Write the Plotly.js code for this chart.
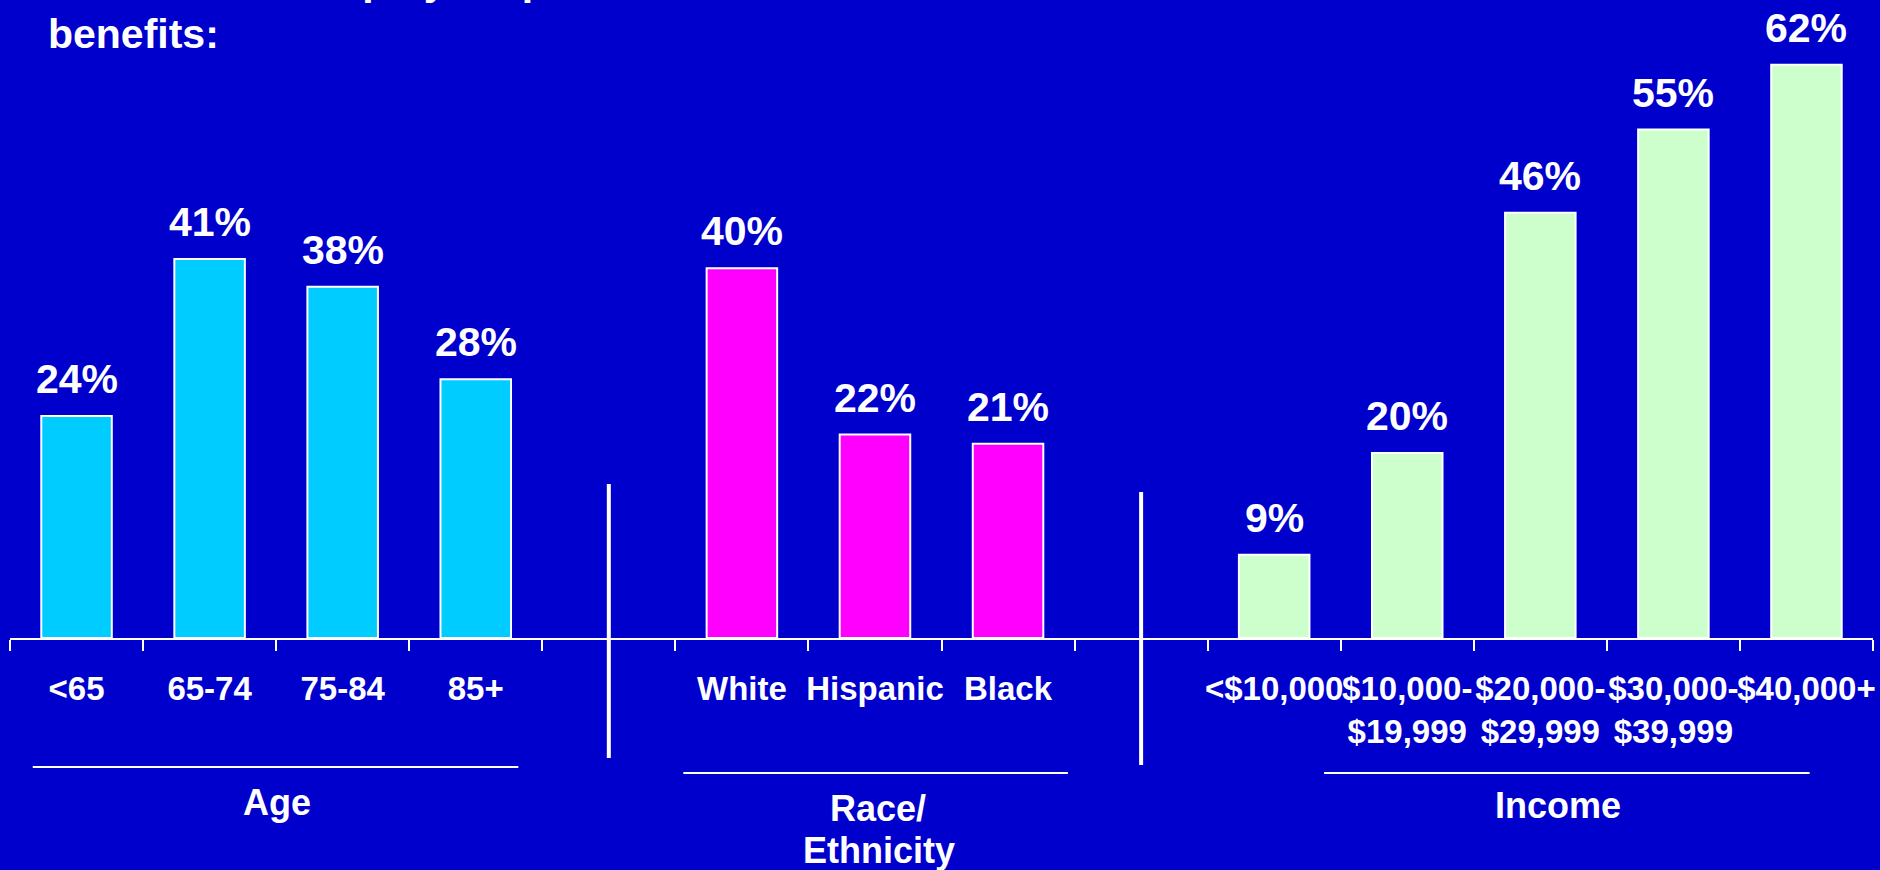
<!DOCTYPE html>
<html>
<head>
<meta charset="utf-8">
<script src="https://cdn.plot.ly/plotly-3.0.1.min.js"></script>
<style>
  html, body { margin: 0; padding: 0; background: #0000CC; }
  #chart { width: 1880px; height: 870px; }
</style>
</head>
<body>
<div id="chart"></div>
<script>
// ---- Data ----
const ageCats = ["<65", "65-74", "75-84", "85+"];
const ageVals = [24, 41, 38, 28];
const raceCats = ["White", "Hispanic", "Black"];
const raceVals = [40, 22, 21];
const incomeCats = ["<$10,000", "$10,000-<br>$19,999", "$20,000-<br>$29,999", "$30,000-<br>$39,999", "$40,000+"];
const incomeVals = [9, 20, 46, 55, 62];
const groupNames = ["Age", "Race/", "Ethnicity", "Income"];
const spacerA = " ";
const spacerB = "  ";
const titleText = "Percent with employer-sponsored retiree health<br>benefits:";

// ---- Styling ----
const FONT = '"Liberation Sans", Arial, Helvetica, sans-serif';
const BG = "#0000CC";
const WHITE = "#FFFFFF";
const categoryOrder = [...ageCats, spacerA, ...raceCats, spacerB, ...incomeCats];

function barTrace(cats, vals, color) {
  return {
    type: "bar",
    x: cats,
    y: vals,
    width: 0.53,
    marker: { color: color, line: { color: WHITE, width: 2 } },
    hoverinfo: "skip",
    showlegend: false,
    cliponaxis: false
  };
}

const traces = [
  barTrace(ageCats, ageVals, "#00CCFF"),
  barTrace(raceCats, raceVals, "#FF00FF"),
  barTrace(incomeCats, incomeVals, "#CCFFCC")
];

const annotations = [];
[[ageCats, ageVals], [raceCats, raceVals], [incomeCats, incomeVals]].forEach(function (g) {
  g[0].forEach(function (cat, i) {
    annotations.push({
      x: categoryOrder.indexOf(cat), y: g[1][i], xref: "x", yref: "y",
      text: g[1][i] + "%", showarrow: false, yanchor: "bottom", yshift: 12,
      font: { family: FONT, size: 41, color: WHITE, weight: "bold" }
    });
  });
});

// group label positions (x in category serial numbers, y = box bottom in paper units)
const groupPos = [[1.51, -0.2985], [6.02, -0.3075], [6.03, -0.3745], [11.13, -0.3025]];
groupNames.forEach(function (name, i) {
  annotations.push({
    x: groupPos[i][0], y: groupPos[i][1], xref: "x", yref: "paper",
    text: name, showarrow: false, xanchor: "center", yanchor: "bottom",
    font: { family: FONT, size: 36, color: WHITE, weight: "bold" }
  });
});

const shapes = [
  { type: "line", xref: "x", yref: "paper", x0: 4, x1: 4, y0: 0.2452, y1: -0.1911, line: { color: WHITE, width: 4 } },
  { type: "line", xref: "x", yref: "paper", x0: 8, x1: 8, y0: 0.2325, y1: -0.2022, line: { color: WHITE, width: 4 } },
  { type: "line", xref: "x", yref: "paper", x0: -0.329, x1: 3.32, y0: -0.2054, y1: -0.2054, line: { color: WHITE, width: 2 } },
  { type: "line", xref: "x", yref: "paper", x0: 4.56, x1: 7.45, y0: -0.215, y1: -0.215, line: { color: WHITE, width: 2 } },
  { type: "line", xref: "x", yref: "paper", x0: 9.375, x1: 13.024, y0: -0.215, y1: -0.215, line: { color: WHITE, width: 2 } }
];

const layout = {
  width: 1880,
  height: 870,
  paper_bgcolor: BG,
  plot_bgcolor: BG,
  margin: { l: 10, r: 7, t: 10, b: 232, pad: 0 },
  barmode: "overlay",
  showlegend: false,
  font: { family: FONT, color: WHITE },
  title: {
    text: titleText,
    x: 0.0255, xref: "container", xanchor: "left",
    y: 1, yref: "container", yanchor: "bottom",
    pad: { b: 5, t: 0, l: 0, r: 0 },
    font: { family: FONT, size: 41, color: WHITE, weight: "bold" }
  },
  xaxis: {
    type: "category",
    categoryorder: "array",
    categoryarray: categoryOrder,
    range: [-0.5, 13.5],
    tickmode: "linear", tick0: 0, dtick: 1,
    tickson: "boundaries",
    ticks: "outside", ticklen: 11, tickwidth: 2, tickcolor: WHITE,
    showline: true, linecolor: WHITE, linewidth: 2,
    showgrid: false, zeroline: false,
    tickangle: 0,
    ticklabelstandoff: 20,
    tickfont: { family: FONT, size: 33, color: WHITE, weight: "bold" },
    fixedrange: true,
    automargin: false
  },
  yaxis: {
    range: [0, 67.93],
    visible: false,
    showgrid: false,
    zeroline: false,
    fixedrange: true
  },
  annotations: annotations,
  shapes: shapes
};

Plotly.newPlot("chart", traces, layout, { displayModeBar: false, staticPlot: true });
</script>
</body>
</html>
